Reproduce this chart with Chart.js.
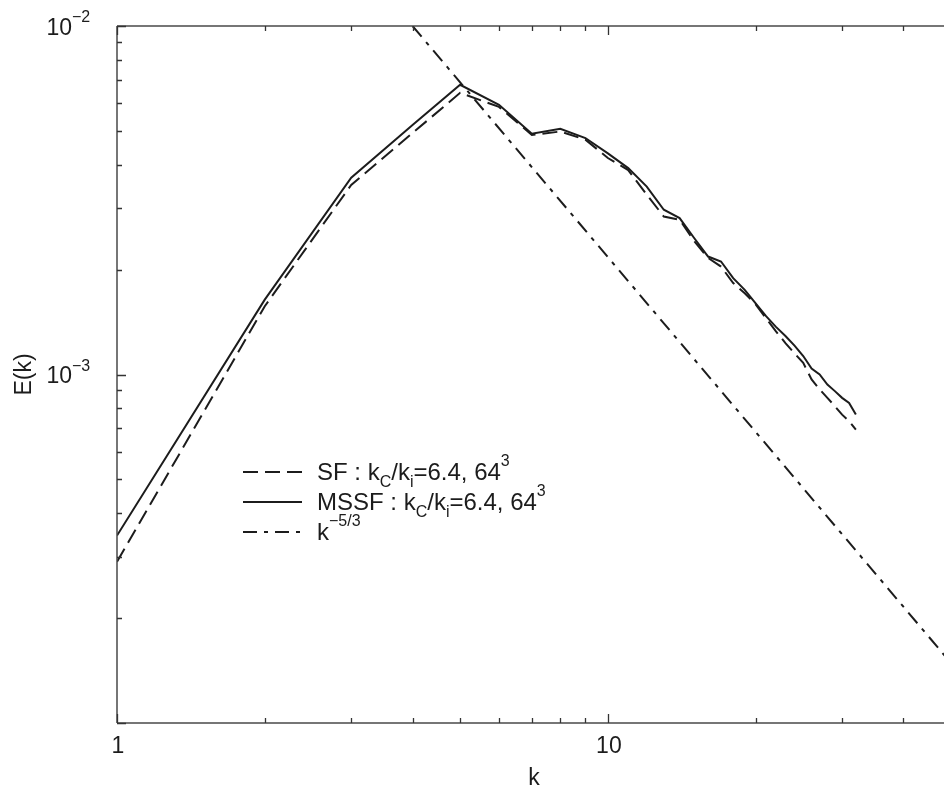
<!DOCTYPE html>
<html>
<head>
<meta charset="utf-8">
<script src="https://cdn.jsdelivr.net/npm/chart.js@4.4.0/dist/chart.umd.min.js"></script>
<style>
  html, body { margin: 0; padding: 0; background: #fff; overflow: hidden; }
  #wrap { width: 960px; height: 787px; }
</style>
</head>
<body>
<div id="wrap"><canvas id="c" width="960" height="787"></canvas></div>
<script>
// ---- data ----
const kValues = [1,2,3,4,5,6,7,8,9,10,11,12,13,14,15,16,17,18,19,20,21,22,23,24,25,26,27,28,29,30,31,32];
const sfEnergy = [2.9e-4,1.57e-3,3.50e-3,4.93e-3,6.43e-3,5.86e-3,4.87e-3,4.98e-3,4.72e-3,4.18e-3,3.86e-3,3.28e-3,2.84e-3,2.78e-3,2.41e-3,2.16e-3,2.04e-3,1.83e-3,1.71e-3,1.59e-3,1.45e-3,1.33e-3,1.23e-3,1.15e-3,1.08e-3,9.68e-4,9.06e-4,8.57e-4,8.11e-4,7.67e-4,7.35e-4,6.95e-4];
const mssfEnergy = [3.45e-4,1.64e-3,3.67e-3,5.20e-3,6.78e-3,5.94e-3,4.91e-3,5.07e-3,4.77e-3,4.31e-3,3.91e-3,3.46e-3,2.97e-3,2.81e-3,2.46e-3,2.18e-3,2.11e-3,1.89e-3,1.75e-3,1.60e-3,1.47e-3,1.37e-3,1.29e-3,1.21e-3,1.13e-3,1.04e-3,1.00e-3,9.36e-4,8.96e-4,8.57e-4,8.29e-4,7.68e-4];
const slopeK = [4, 50];
const slopeEnergy = [1.0e-2, 1.486e-4];
const xTickValues = [1, 10];
const xTickLabels = ['1', '10'];
const yTickValues = [1e-2, 1e-3];
const yTickBase = ['10', '10'];
const yTickExponents = ['\u22122', '\u22123'];
const xMinorTicks = [1,2,3,4,5,6,7,8,9,10,20,30,40,50];
const yMinorTicks = [1e-4,2e-4,3e-4,4e-4,5e-4,6e-4,7e-4,8e-4,9e-4,1e-3,2e-3,3e-3,4e-3,5e-3,6e-3,7e-3,8e-3,9e-3,1e-2];
const xTitle = 'k';
const yTitle = 'E(k)';
const legendItems = [
  { parts: [['SF : k',''],['C','sub'],['/k',''],['i','sub'],['=6.4, 64',''],['3','sup']], dash: [15,7] },
  { parts: [['MSSF : k',''],['C','sub'],['/k',''],['i','sub'],['=6.4, 64',''],['3','sup']], dash: [] },
  { parts: [['k',''],['\u22125/3','sup']], dash: [14,7,4,7] }
];

const toXY = (xs, ys) => xs.map((x, i) => ({ x: x, y: ys[i] }));
const FONT = '"Liberation Sans", Arial, Helvetica, sans-serif';
const INK = '#1c1c1c';

const overlay = {
  id: 'overlay',
  afterDraw(chart) {
    const ctx = chart.ctx;
    const a = chart.chartArea;
    const xs = chart.scales.x, ys = chart.scales.y;
    ctx.save();
    // frame
    ctx.strokeStyle = '#4a4a4a';
    ctx.lineWidth = 1.5;
    ctx.setLineDash([]);
    ctx.beginPath();
    ctx.moveTo(a.left, a.top); ctx.lineTo(a.right, a.top);
    ctx.moveTo(a.left, a.top); ctx.lineTo(a.left, a.bottom);
    ctx.moveTo(a.left, a.bottom); ctx.lineTo(a.right, a.bottom);
    ctx.stroke();
    // inward ticks
    ctx.strokeStyle = '#333';
    ctx.lineWidth = 1.3;
    ctx.beginPath();
    xMinorTicks.forEach(v => {
      const px = Math.round(xs.getPixelForValue(v)) + 0.5;
      const len = xTickValues.includes(v) ? 9 : 5;
      ctx.moveTo(px, a.bottom); ctx.lineTo(px, a.bottom - len);
      ctx.moveTo(px, a.top); ctx.lineTo(px, a.top + len);
    });
    yMinorTicks.forEach(v => {
      const py = Math.round(ys.getPixelForValue(v)) + 0.5;
      const major = Math.abs(Math.log10(v) - Math.round(Math.log10(v))) < 1e-9;
      const len = major ? 9 : 5;
      ctx.moveTo(a.left, py); ctx.lineTo(a.left + len, py);
    });
    ctx.stroke();

    // x tick labels
    ctx.fillStyle = INK;
    ctx.font = '23px ' + FONT;
    ctx.textAlign = 'center';
    ctx.textBaseline = 'alphabetic';
    xTickValues.forEach((v, i) => {
      ctx.fillText(xTickLabels[i], xs.getPixelForValue(v) + 1, a.bottom + 30);
    });
    // x title
    ctx.fillText(xTitle, (a.left + a.right) / 2, a.bottom + 62);

    // y tick labels with superscript exponent
    yTickValues.forEach((v, i) => {
      const py = ys.getPixelForValue(v);
      ctx.font = '23px ' + FONT;
      ctx.textAlign = 'right';
      ctx.textBaseline = 'alphabetic';
      ctx.fillText(yTickBase[i], 72, py + 8.5);
      ctx.font = '16px ' + FONT;
      ctx.textAlign = 'left';
      ctx.fillText(yTickExponents[i], 72, py - 4);
    });

    // y title
    ctx.save();
    ctx.translate(25, (a.top + a.bottom) / 2);
    ctx.rotate(-Math.PI / 2);
    ctx.font = '23px ' + FONT;
    ctx.textAlign = 'center';
    ctx.textBaseline = 'middle';
    ctx.fillText(yTitle, 0, 0);
    ctx.restore();

    // legend
    const rowY = [472, 502, 532];
    legendItems.forEach((item, r) => {
      const cy = rowY[r];
      ctx.strokeStyle = INK;
      ctx.lineWidth = 2;
      ctx.setLineDash(item.dash);
      ctx.beginPath();
      ctx.moveTo(243, cy); ctx.lineTo(302, cy);
      ctx.stroke();
      ctx.setLineDash([]);
      let x = 317;
      ctx.textAlign = 'left';
      ctx.textBaseline = 'alphabetic';
      item.parts.forEach(([txt, kind]) => {
        let dy = 8;
        if (kind === 'sub') { ctx.font = '16px ' + FONT; dy = 15; }
        else if (kind === 'sup') { ctx.font = '16px ' + FONT; dy = -6; }
        else { ctx.font = '24px ' + FONT; }
        ctx.fillText(txt, x, cy + dy);
        x += ctx.measureText(txt).width;
      });
    });
    ctx.restore();
  }
};

new Chart(document.getElementById('c'), {
  type: 'line',
  data: {
    datasets: [
      { label: 'k^-5/3', data: toXY(slopeK, slopeEnergy), borderColor: INK, borderWidth: 2, borderDash: [14,7,4,7], pointRadius: 0, fill: false, tension: 0 },
      { label: 'SF', data: toXY(kValues, sfEnergy), borderColor: INK, borderWidth: 2, borderDash: [15,7], pointRadius: 0, fill: false, tension: 0 },
      { label: 'MSSF', data: toXY(kValues, mssfEnergy), borderColor: INK, borderWidth: 2, pointRadius: 0, fill: false, tension: 0 }
    ]
  },
  options: {
    responsive: false,
    animation: false,
    events: [],
    layout: { padding: { left: 117, top: 26, right: 9, bottom: 64 } },
    plugins: { legend: { display: false }, tooltip: { enabled: false } },
    scales: {
      x: { type: 'logarithmic', min: 1, max: 50, display: false },
      y: { type: 'logarithmic', min: 1e-4, max: 1e-2, display: false }
    }
  },
  plugins: [overlay]
});
</script>
</body>
</html>
